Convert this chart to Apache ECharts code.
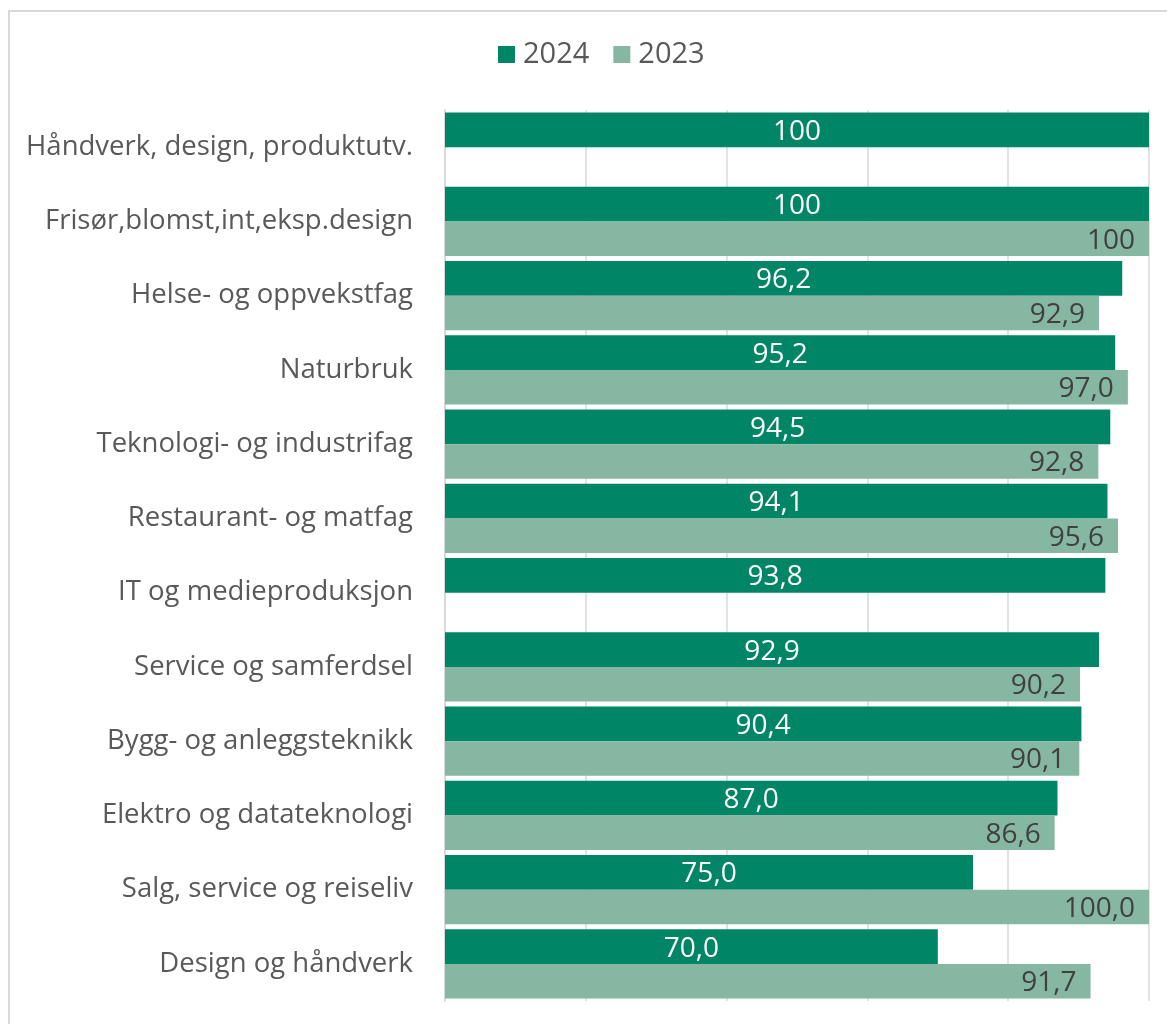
<!DOCTYPE html>
<html><head><meta charset="utf-8">
<script src="https://cdn.jsdelivr.net/npm/echarts@6/dist/echarts.min.js"></script>
<style>html,body{margin:0;padding:0;background:#fff}#c{width:1167px;height:1024px}
#frame{position:absolute;left:8px;top:10px;width:1200px;height:1100px;border:2px solid #d9d9d9;box-sizing:border-box;pointer-events:none}</style>
</head><body><div id="c"></div><div id="frame"></div>
<script>
const categories = ["Håndverk, design, produktutv.","Frisør,blomst,int,eksp.design","Helse- og oppvekstfag","Naturbruk","Teknologi- og industrifag","Restaurant- og matfag","IT og medieproduksjon","Service og samferdsel","Bygg- og anleggsteknikk","Elektro og datateknologi","Salg, service og reiseliv","Design og håndverk"];
const values2024 = [100,100,96.2,95.2,94.5,94.1,93.8,92.9,90.4,87.0,75.0,70.0];
const values2023 = [null,100,92.9,97.0,92.8,95.6,null,90.2,90.1,86.6,100.0,91.7];
const labels2024 = ["100","100","96,2","95,2","94,5","94,1","93,8","92,9","90,4","87,0","75,0","70,0"];
const labels2023 = ["","100","92,9","97,0","92,8","95,6","","90,2","90,1","86,6","100,0","91,7"];
const font = "Open Sans";
const chart = echarts.init(document.getElementById('c'));
chart.setOption({
  animation:false,
  textStyle:{fontFamily:font},
  legend:{top:40,left:498,itemWidth:17,itemHeight:17,itemGap:24,icon:'rect',padding:0,
    textStyle:{fontSize:29,color:'#595959',fontFamily:font,padding:[0,0,0,3]}},
  grid:{left:445,right:18,top:110,bottom:23,containLabel:false},
  xAxis:{type:'value',min:0,max:100,interval:20,axisLabel:{show:false},axisLine:{show:false},axisTick:{show:false},
    splitLine:{show:true,lineStyle:{color:'#d9d9d9',width:1.5}}},
  yAxis:{type:'category',inverse:true,data:categories,axisTick:{show:false},
    axisLine:{show:true,lineStyle:{color:'#d9d9d9',width:2}},
    axisLabel:{fontSize:27.5,color:'#595959',margin:32,fontFamily:font,padding:[3,0,0,0]}},
  series:[
    {name:'2024',type:'bar',data:values2024,barGap:'0%',barCategoryGap:'7%',itemStyle:{color:'#008566'},
     label:{show:true,position:'inside',offset:[0,2],color:'#fff',fontSize:28,fontFamily:font,formatter:p=>labels2024[p.dataIndex]}},
    {name:'2023',type:'bar',data:values2023,barGap:'0%',barCategoryGap:'7%',itemStyle:{color:'#86b7a2'},
     label:{show:true,position:'insideRight',offset:[0,2],distance:14,color:'#404040',fontSize:28,fontFamily:font,formatter:p=>labels2023[p.dataIndex]}}
  ]
});
</script></body></html>
